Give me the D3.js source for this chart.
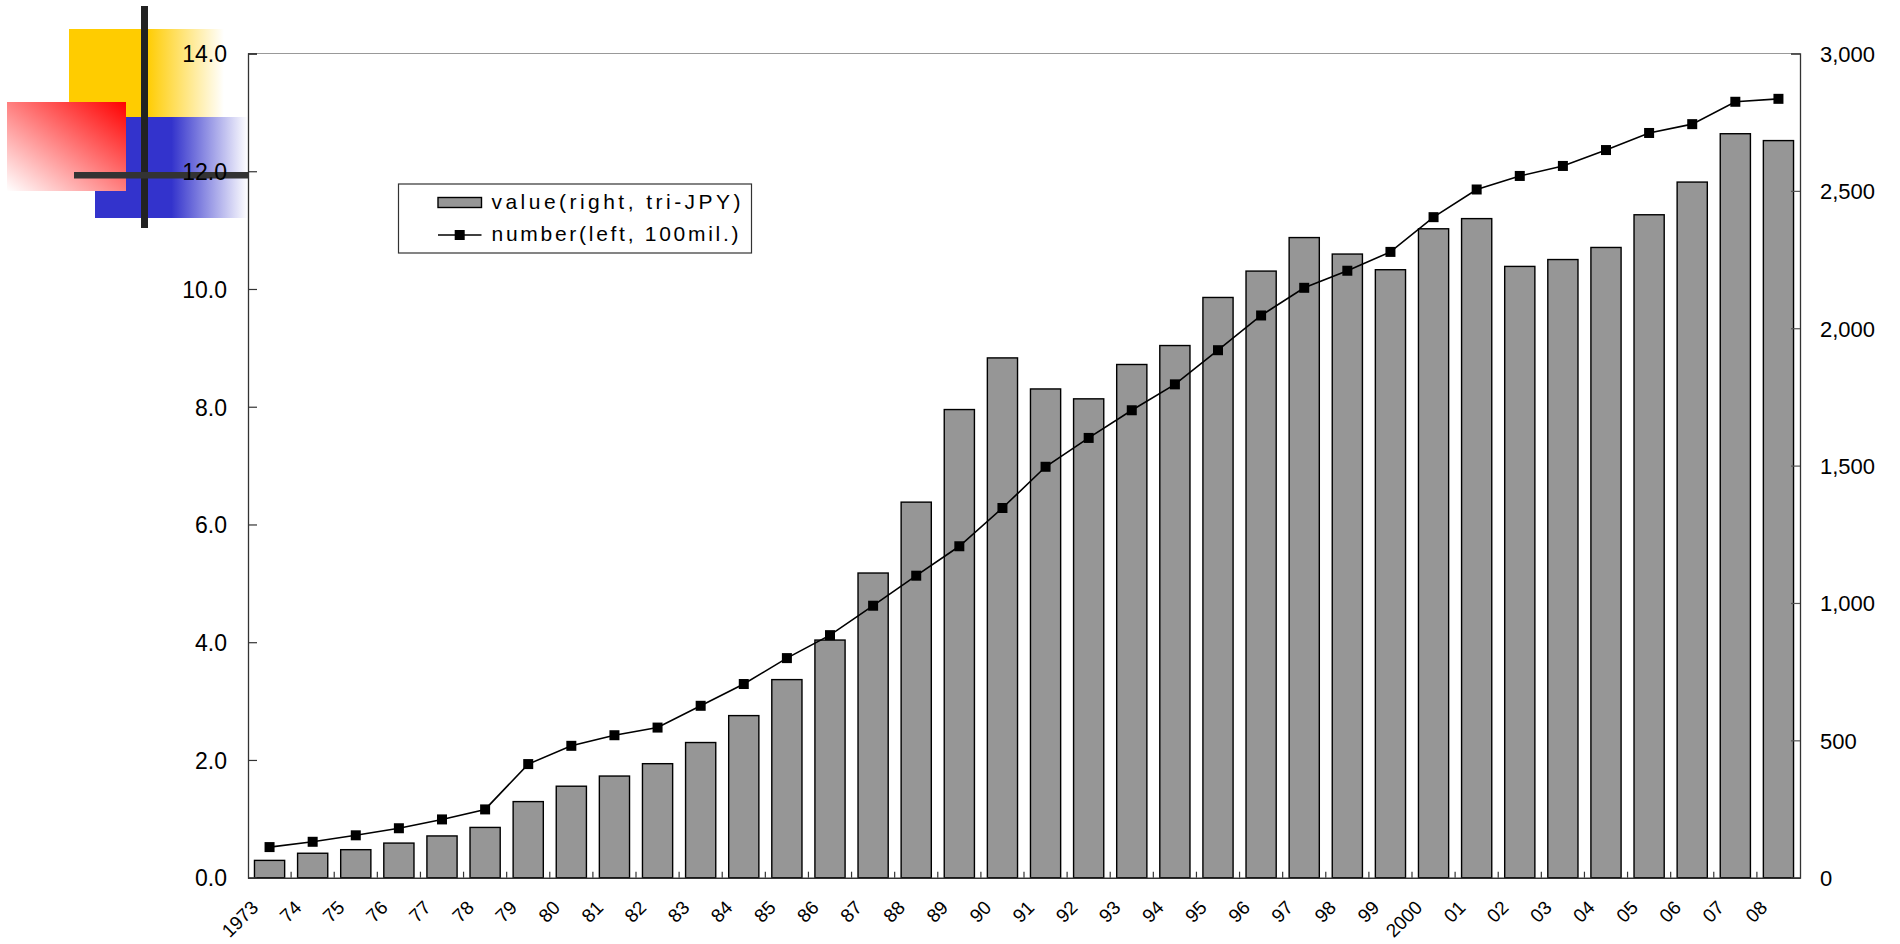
<!DOCTYPE html>
<html>
<head>
<meta charset="utf-8">
<script src="https://cdn.jsdelivr.net/npm/d3@7"></script>
<style>
  html, body { margin: 0; padding: 0; background: #ffffff; }
  svg { display: block; }
  text { font-family: "Liberation Sans", Arial, sans-serif; fill: #000; }
</style>
</head>
<body>
<svg id="chart" width="1900" height="944"></svg>
<script>
// ---- data ----
const years = ["1973","74","75","76","77","78","79","80","81","82","83","84","85","86","87","88","89","90",
  "91","92","93","94","95","96","97","98","99","2000","01","02","03","04","05","06","07","08"];
// value (right axis, tri-JPY)
const valueSeries = [63, 89, 102, 126, 152, 183, 277, 333, 370, 415, 492, 590, 721, 865, 1109, 1367, 1704, 1892,
  1779, 1743, 1868, 1937, 2112, 2208, 2330, 2270, 2213, 2362, 2399, 2225, 2250, 2294, 2413, 2532, 2708, 2683];
// number (left axis, 100 mil.)
const numberSeries = [0.52, 0.61, 0.72, 0.84, 0.99, 1.16, 1.93, 2.24, 2.42, 2.55, 2.92, 3.29, 3.73, 4.12, 4.62, 5.13, 5.63, 6.28,
  6.98, 7.47, 7.94, 8.38, 8.96, 9.55, 10.02, 10.31, 10.63, 11.22, 11.69, 11.92, 12.09, 12.36, 12.65, 12.80, 13.18, 13.23];
const leftTicks = [0, 2, 4, 6, 8, 10, 12, 14];
const rightTicks = [0, 500, 1000, 1500, 2000, 2500, 3000];
const legendLabels = ["value(right, tri-JPY)", "number(left, 100mil.)"];

// ---- layout ----
const svg = d3.select("#chart");
const plot = { left: 248, right: 1800, top: 53.5, bottom: 877.7 };

// ---- decoration (top-left) ----
const defs = svg.append("defs");
const gy = defs.append("linearGradient").attr("id", "gYellow").attr("x1", 0).attr("x2", 1).attr("y1", 0).attr("y2", 0);
gy.append("stop").attr("offset", "0%").attr("stop-color", "#FFCC00");
gy.append("stop").attr("offset", "50%").attr("stop-color", "#FFCC00");
gy.append("stop").attr("offset", "100%").attr("stop-color", "#FFFFFF");
const gb = defs.append("linearGradient").attr("id", "gBlue").attr("x1", 0).attr("x2", 1).attr("y1", 0).attr("y2", 0);
gb.append("stop").attr("offset", "0%").attr("stop-color", "#3333CC");
gb.append("stop").attr("offset", "50%").attr("stop-color", "#3333CC");
gb.append("stop").attr("offset", "100%").attr("stop-color", "#FFFFFF");
const gr = defs.append("linearGradient").attr("id", "gRed").attr("x1", 1).attr("x2", 0).attr("y1", 0).attr("y2", 1);
gr.append("stop").attr("offset", "0%").attr("stop-color", "#FF0000");
gr.append("stop").attr("offset", "100%").attr("stop-color", "#FFFFFF");

const deco = svg.append("g");
deco.append("rect").attr("x", 69).attr("y", 29).attr("width", 155).attr("height", 88).attr("fill", "url(#gYellow)");
deco.append("rect").attr("x", 95).attr("y", 117).attr("width", 153).attr("height", 101).attr("fill", "url(#gBlue)");
deco.append("rect").attr("x", 7).attr("y", 102).attr("width", 119).attr("height", 89).attr("fill", "url(#gRed)");
deco.append("rect").attr("x", 141).attr("y", 6).attr("width", 7).attr("height", 222).attr("fill", "#222");
deco.append("rect").attr("x", 74).attr("y", 172).attr("width", 174).attr("height", 6.5).attr("fill", "#333");

// ---- scales ----
const x = d3.scaleBand().domain(years).range([plot.left, plot.right]).paddingInner(0.3).paddingOuter(0.15);
const yL = d3.scaleLinear().domain([0, 14]).range([plot.bottom, plot.top]);
const yR = d3.scaleLinear().domain([0, 3000]).range([plot.bottom, plot.top]);

// ---- plot border (top) ----
svg.append("line").attr("x1", plot.left).attr("x2", plot.right).attr("y1", plot.top).attr("y2", plot.top)
  .attr("stroke", "#999").attr("stroke-width", 1.2);

// ---- bars ----
svg.append("g").selectAll("rect").data(years).join("rect")
  .attr("x", d => x(d))
  .attr("y", (d, i) => yR(valueSeries[i]))
  .attr("width", x.bandwidth())
  .attr("height", (d, i) => plot.bottom - yR(valueSeries[i]))
  .attr("fill", "#969696").attr("stroke", "#000").attr("stroke-width", 1.4);

// ---- line ----
const line = d3.line().x((d, i) => x(years[i]) + x.bandwidth() / 2).y(d => yL(d));
svg.append("path").datum(numberSeries).attr("d", line)
  .attr("fill", "none").attr("stroke", "#000").attr("stroke-width", 1.6);
const ms = 10;
svg.append("g").selectAll("rect").data(numberSeries).join("rect")
  .attr("x", (d, i) => x(years[i]) + x.bandwidth() / 2 - ms / 2)
  .attr("y", d => yL(d) - ms / 2)
  .attr("width", ms).attr("height", ms).attr("fill", "#000");

// ---- left axis ----
const axL = svg.append("g").attr("transform", `translate(${plot.left},0)`)
  .call(d3.axisLeft(yL).tickValues(leftTicks).tickFormat(d3.format(".1f")).tickSize(-9).tickPadding(21));
axL.select(".domain").attr("stroke", "#333").attr("stroke-width", 1.3);
axL.selectAll(".tick line").attr("stroke", "#333").attr("stroke-width", 1.2);
axL.selectAll("text").attr("font-size", 23).attr("dy", "0.36em").attr("font-family", "Liberation Sans, Arial, sans-serif");

// ---- right axis ----
const axR = svg.append("g").attr("transform", `translate(${plot.right},0)`)
  .call(d3.axisRight(yR).tickValues(rightTicks).tickFormat(d3.format(",")).tickSize(-9).tickPadding(20));
axR.select(".domain").attr("stroke", "#333").attr("stroke-width", 1.3);
axR.selectAll(".tick line").attr("stroke", "#555").attr("stroke-width", 1.2);
axR.selectAll("text").attr("font-size", 22).attr("dy", "0.36em").attr("font-family", "Liberation Sans, Arial, sans-serif");

// ---- bottom axis ----
const axB = svg.append("g").attr("transform", `translate(0,${plot.bottom})`)
  .call(d3.axisBottom(x).tickSize(0).tickPadding(0));
axB.select(".domain").attr("stroke", "#333").attr("stroke-width", 1.4);
axB.selectAll("text")
  .attr("font-size", 19).attr("font-family", "'Liberation Sans Narrow', 'DejaVu Sans Condensed', sans-serif")
  .attr("text-anchor", "end").attr("y", 0).attr("dy", 0)
  .attr("transform", "translate(-10,31) rotate(-45)");
// boundary ticks between categories
const boundaries = years.slice(1).map(d => x(d) - x.step() * x.paddingInner() / 2);
svg.append("g").selectAll("line").data(boundaries).join("line")
  .attr("x1", d => d).attr("x2", d => d)
  .attr("y1", plot.bottom).attr("y2", plot.bottom - 6)
  .attr("stroke", "#333").attr("stroke-width", 1.2);

// ---- legend ----
const lg = svg.append("g");
lg.append("rect").attr("x", 398.5).attr("y", 184).attr("width", 353).attr("height", 69)
  .attr("fill", "#fff").attr("stroke", "#333").attr("stroke-width", 1.2);
lg.append("rect").attr("x", 438).attr("y", 197.5).attr("width", 43.5).attr("height", 10)
  .attr("fill", "#969696").attr("stroke", "#000").attr("stroke-width", 1.4);
lg.append("text").attr("x", 491.5).attr("y", 209).attr("font-size", 21)
  .attr("textLength", 249).attr("lengthAdjust", "spacing").text(legendLabels[0]);
lg.append("line").attr("x1", 438).attr("x2", 481.5).attr("y1", 235).attr("y2", 235)
  .attr("stroke", "#000").attr("stroke-width", 1.6);
lg.append("rect").attr("x", 459.7 - ms / 2).attr("y", 235 - ms / 2).attr("width", ms).attr("height", ms).attr("fill", "#000");
lg.append("text").attr("x", 491.5).attr("y", 241).attr("font-size", 21)
  .attr("textLength", 247).attr("lengthAdjust", "spacing").text(legendLabels[1]);
</script>
</body>
</html>
